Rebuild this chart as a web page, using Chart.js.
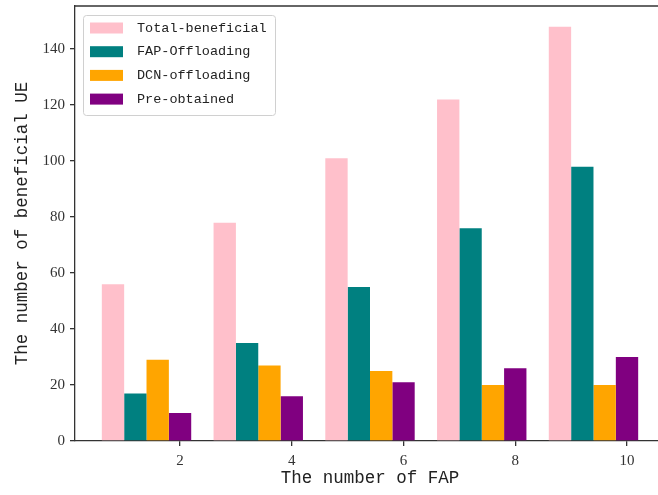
<!DOCTYPE html>
<html><head><meta charset="utf-8">
<script src="https://cdn.jsdelivr.net/npm/chart.js@4"></script>
<style>
html,body{margin:0;padding:0;overflow:hidden;background:#fff;width:658px;height:495px}
#wrap{width:668px;height:495px}
canvas{display:block}
</style></head>
<body><div id="wrap"><canvas id="c" width="668" height="495"></canvas></div>
<script>
const categories = [2, 4, 6, 8, 10];
const seriesNames = ['Total-beneficial', 'FAP-Offloading', 'DCN-offloading', 'Pre-obtained'];
const totalBeneficial = [56, 78, 101, 122, 148];
const fapOffloading = [17, 35, 55, 76, 98];
const dcnOffloading = [29, 27, 25, 20, 20];
const preObtained = [10, 16, 21, 26, 30];
const yTickValues = [0, 20, 40, 60, 80, 100, 120, 140];
const xTickValues = [2, 4, 6, 8, 10];
const seriesColors = ['#FFC0CB', '#008080', '#FFA500', '#800080'];

const allSeries = [totalBeneficial, fapOffloading, dcnOffloading, preObtained];
const groupShift = -0.6;
const axisColor = '#333';
const monoFont = '"Liberation Mono", "DejaVu Sans Mono", monospace';
const serifFont = '"Liberation Serif", "DejaVu Serif", serif';

const datasets = allSeries.map((vals, k) => ({
  label: seriesNames[k],
  data: categories.map((c, i) => ({ x: c + groupShift, y: vals[i] })),
  backgroundColor: seriesColors[k],
  borderWidth: 0,
  categoryPercentage: 0.8,
  barPercentage: 1.0
}));

const noPad = s => { s.paddingTop = 0; s.paddingBottom = 0; s.paddingLeft = 0; s.paddingRight = 0; };

const framePlugin = {
  id: 'frame',
  afterDatasetsDraw(chart) {
    const { ctx, chartArea: a } = chart;
    ctx.save();
    ctx.strokeStyle = axisColor;
    ctx.lineWidth = 1.3;
    ctx.beginPath();
    ctx.moveTo(a.left, a.top);
    ctx.lineTo(a.right, a.top);
    ctx.stroke();
    ctx.restore();
  }
};

const legendPlugin = {
  id: 'innerLegend',
  afterDraw(chart) {
    const { ctx } = chart;
    const x0 = 83.5, y0 = 15.5, w = 192, h = 100;
    ctx.save();
    ctx.fillStyle = 'rgba(255,255,255,0.85)';
    ctx.strokeStyle = '#d0d0d0';
    ctx.lineWidth = 1;
    ctx.beginPath();
    ctx.roundRect(x0, y0, w, h, 3);
    ctx.fill();
    ctx.stroke();
    ctx.font = '13.5px ' + monoFont;
    ctx.textBaseline = 'middle';
    ctx.textAlign = 'left';
    chart.data.datasets.forEach((ds, i) => {
      const cy = 28 + i * 23.7;
      ctx.fillStyle = ds.backgroundColor;
      ctx.fillRect(90, cy - 5.5, 33, 11);
      ctx.fillStyle = '#222';
      ctx.fillText(ds.label, 137, cy);
    });
    ctx.restore();
  }
};

new Chart(document.getElementById('c'), {
  type: 'bar',
  data: { datasets },
  options: {
    responsive: false,
    animation: false,
    devicePixelRatio: 1,
    layout: { padding: { top: 6, right: 3, left: 0, bottom: 0 } },
    plugins: { legend: { display: false }, tooltip: { enabled: false } },
    scales: {
      x: {
        type: 'linear',
        min: 0.12,
        max: 10.68,
        offset: false,
        afterBuildTicks: s => { s.ticks = xTickValues.map(v => ({ value: v })); },
        afterFit: s => { s.height = 54; noPad(s); },
        grid: { offset: false, drawOnChartArea: false, drawTicks: true, tickLength: 5, color: axisColor, lineWidth: 1.3 },
        border: { display: true, color: axisColor, width: 1.3 },
        ticks: { color: '#333', font: { family: serifFont, size: 15 }, padding: 6, maxRotation: 0 },
        title: { display: true, text: 'The number of FAP', color: '#222', font: { family: monoFont, size: 17.5 }, padding: { top: 0, bottom: 6 } }
      },
      y: {
        min: 0,
        max: 155.4,
        afterBuildTicks: s => { s.ticks = yTickValues.map(v => ({ value: v })); },
        afterFit: s => { s.width = 75; noPad(s); },
        grid: { drawOnChartArea: false, drawTicks: true, tickLength: 5, color: axisColor, lineWidth: 1.3 },
        border: { display: true, color: axisColor, width: 1.3 },
        ticks: { color: '#333', font: { family: serifFont, size: 15 }, padding: 5 },
        title: { display: true, text: 'The number of beneficial UE', color: '#222', font: { family: monoFont, size: 17.5 }, padding: { top: 12, bottom: 0 } }
      }
    }
  },
  plugins: [framePlugin, legendPlugin]
});
</script>
</body></html>
